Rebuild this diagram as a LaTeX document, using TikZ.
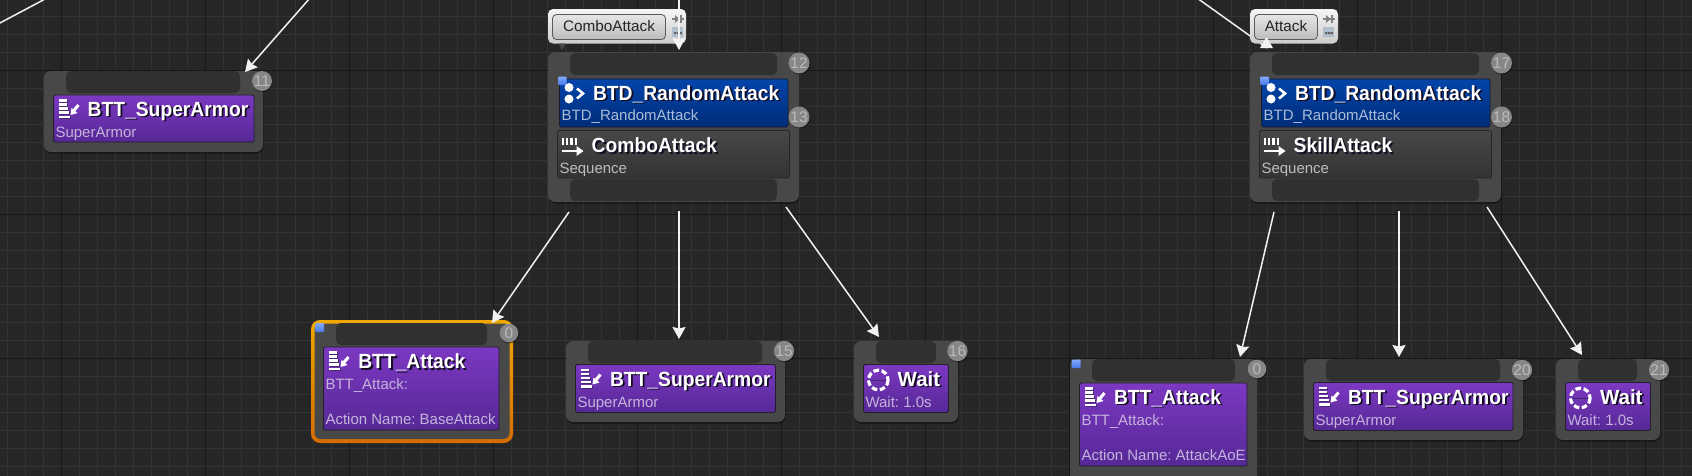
\documentclass[tikz,border=0pt]{standalone}
\usepackage{fontspec}
\setmainfont{Liberation Sans}
\newfontfamily\tfont[FakeStretch=0.94,UprightFont=* Bold]{Liberation Sans}
\newfontfamily\wfont[UprightFont=* Bold]{Liberation Sans}
\usetikzlibrary{arrows.meta,shadows}
\definecolor{bgc}{HTML}{262626}
\definecolor{gmin}{HTML}{333333}
\definecolor{gmaj}{HTML}{171717}
\definecolor{outerc}{HTML}{484848}
\definecolor{barc}{HTML}{303030}
\definecolor{subc}{HTML}{C4B4DC}
\definecolor{subg}{HTML}{BDBDBD}
\definecolor{subb}{HTML}{A9BCD8}
\definecolor{ptop}{RGB}{124,56,194}
\definecolor{pbot}{RGB}{86,40,150}
\definecolor{pedge}{RGB}{34,30,44}
\definecolor{btop}{RGB}{3,68,170}
\definecolor{bbot}{RGB}{0,44,120}
\definecolor{bedge}{RGB}{22,28,44}
\definecolor{otop}{RGB}{240,168,0}
\definecolor{obot}{RGB}{214,108,0}
\definecolor{mtop}{RGB}{130,170,255}
\definecolor{mbot}{RGB}{70,120,230}
\definecolor{shc}{RGB}{20,12,34}
\definecolor{picon}{RGB}{70,40,110}
\definecolor{tagtint}{RGB}{176,190,205}
\tikzset{
  x=1pt,y=-1pt,
  every node/.style={inner sep=0pt,outer sep=0pt},
  flatbox/.style={fill=outerc,rounded corners=7pt},
  outerbox/.style={flatbox,drop shadow={shadow xshift=0.5pt,shadow yshift=-1.5pt,opacity=.45,fill=black}},
  selbox/.style={top color=otop,bottom color=obot,rounded corners=9pt},
  selin/.style={fill=outerc,rounded corners=6pt},
  barbox/.style={fill=barc,rounded corners=5pt},
  purplebox/.style={top color=ptop,bottom color=pbot,draw=pedge,line width=0.8pt,rounded corners=1.5pt},
  bluebox/.style={top color=btop,bottom color=bbot,draw=bedge,line width=0.8pt,rounded corners=1.5pt},
  greybox/.style={top color=black!72,bottom color=black!80,draw=black!85,line width=0.8pt,rounded corners=1.5pt},
  tagbox/.style={top color=black!4,bottom color=black!20,rounded corners=5pt},
  tagbtn/.style={top color=black!10,bottom color=black!26,draw=black!65,line width=0.8pt,rounded corners=4pt},
  badge/.style={circle,fill=black!47,text=black!27,font=\fontsize{15.5}{17}\selectfont,drop shadow={shadow xshift=0.5pt,shadow yshift=-1pt,opacity=.5,fill=black}},
  ttl/.style={anchor=base west,text=white,font=\fontsize{20.5}{24}\tfont},
  ttlw/.style={anchor=base west,text=white,font=\fontsize{20.5}{24}\wfont},
  subt/.style={anchor=base west,font=\fontsize{15}{17}\selectfont\frenchspacing},
  tagtext/.style={text=black!85,font=\fontsize{15.3}{17}\selectfont},
  marker/.style={top color=mtop,bottom color=mbot,rounded corners=0.8pt},
  wire/.style={draw=black!5,line width=1.5pt,-{Stealth[length=12pt,width=13pt,inset=1.5pt]}},
  plainwire/.style={draw=black!5,line width=1.5pt},
  pics/taskicon/.style={code={
    \foreach \yy/\ww in {0/8,4/8.5,8/9,12/10,16.5/11}{
      \draw[picon,line width=2.3pt] (1,\yy+1) -- ++(\ww,0);
      \draw[white,line width=2.3pt] (0,\yy) -- ++(\ww,0);
    }
    \draw[white,line width=3pt] (20,4.5) -- (14.5,11);
    \fill[white] (12,14.5) -- (13,7.5) -- (19,12.5) -- cycle;
  }},
  pics/seqicon/.style={code={
    \foreach \xx in {1.5,5.7,10,14.2}{\draw[white,line width=2.4pt] (\xx,0) -- (\xx,7);}
    \draw[white,line width=2.6pt] (0,13.5) -- (17,13.5);
    \fill[white] (22,13.5) -- (15,8.5) -- (15,18.5) -- cycle;
  }},
  pics/randicon/.style={code={
    \fill[white] (0,0) circle (4.5) (0,11.5) circle (4.5);
    \draw[white,line width=2.6pt] (8,1) -- (14,6) -- (8,11);
  }},
  pics/waiticon/.style={code={
    \draw[white,line width=3.2pt,dash pattern=on 5.6pt off 2.6pt] (0,0) circle (9.8);
    \draw[picon,line width=0.8pt] (-8,0) -- (8,0);
  }},
  pics/tagicons/.style={code={
    \fill[black!50] (-6,-0.8) rectangle (5.5,0.8);
    \fill[black!50] (-3,-4) -- (-3,4) -- (1.5,0) -- cycle;
    \fill[black!50] (2,-4) rectangle (3.5,4);
    \fill[tagtint] (-6,8) rectangle (5,18);
    \fill[black!62] (-4,13) rectangle (-1.8,15) (-1.2,13) rectangle (1,15) (1.6,13) rectangle (3.8,15);
  }},
}
\newcommand\BX[6]{\node[#6,anchor=north west,minimum width={(#4-#2)*1pt},minimum height={(#5-#3)*1pt}] (#1) at (#2,#3) {};}
\newcommand\Sh[1]{\makebox[0pt][l]{\raisebox{-1.8pt}{\hspace{1.8pt}\textcolor{shc}{#1}}}#1}
\newcommand\Ttl[4]{\node[ttl] (#1) at (#2,#3) {\Sh{#4}};}
\newcommand\TtlW[4]{\node[ttlw] (#1) at (#2,#3) {\Sh{#4}};}
\newcommand\Sub[5]{\node[subt,text=#5] (#1) at (#2,#3) {#4};}
\newcommand\Bdg[5]{\node[badge,minimum size={#4*2pt}] (#1) at (#2,#3) {#5};}
\begin{document}
\begin{tikzpicture}
\useasboundingbox (0,0) rectangle (1692,475);
\clip (-2,-2) rectangle (1694,477);
\fill[bgc] (-2,-2) rectangle (1694,477);
% grid
\foreach \i in {0,...,93}{\draw[gmin,line width=1pt] ({7.7+18*\i},-2) -- ({7.7+18*\i},477);}
\foreach \i in {0,...,26}{\draw[gmin,line width=1pt] (-2,{16+18*\i}) -- (1694,{16+18*\i});}
\foreach \i in {0,...,11}{\draw[gmaj,line width=0.8pt] ({61.7+144*\i},-2) -- ({61.7+144*\i},477);}
\foreach \i in {0,...,2}{\draw[gmaj,line width=0.8pt] (-2,{70+144*\i}) -- (1694,{70+144*\i});}
% free wire ends
\coordinate (tl1) at (-2,24);
\coordinate (tl2) at (47,-2);
\coordinate (tl3) at (310,-2);
\coordinate (tl4) at (679,-2);
\coordinate (tl5) at (1197,-2);
% SuperArmor 11
\BX{sa}{44}{71}{263}{152}{outerbox}
\BX{sabar}{66}{71}{240}{93}{barbox}
\BX{sain}{53.5}{95}{254}{142}{purplebox}
\Ttl{satitle}{87.7}{116}{BTT\_SuperArmor}
\Sub{sasub}{55.5}{137}{SuperArmor}{subc}
\pic at (58.5,100.5) {taskicon};
\Bdg{bb}{262}{81}{10}{11}
% Combo composite
\BX{combo}{548}{52}{799}{202}{outerbox}
\BX{cotop}{570}{53}{777}{75}{barbox}
\BX{cobot}{570}{179}{777}{201}{barbox}
\BX{coblue}{559.5}{79}{788}{127}{bluebox}
\BX{coseq}{557.5}{130.5}{789.5}{178}{greybox}
\BX{comark}{558}{76.5}{566.5}{85}{marker}
\pic at (569,87.5) {randicon};
\Ttl{cot}{593}{100}{BTD\_RandomAttack}
\Sub{cos}{561.7}{120.7}{BTD\_RandomAttack}{subb}
\pic at (561.5,137.5) {seqicon};
\Ttl{cot2}{591.7}{152.3}{ComboAttack}
\Sub{cos2}{559.5}{173}{Sequence}{subg}
\Bdg{b12}{799}{63}{10.5}{12}
\Bdg{b13}{799}{117}{10.5}{13}
% Skill composite
\BX{skill}{1250}{52}{1501}{202}{outerbox}
\BX{sktop}{1272}{53}{1479}{75}{barbox}
\BX{skbot}{1272}{179}{1479}{201}{barbox}
\BX{skblue}{1261.5}{79}{1490}{127}{bluebox}
\BX{skseq}{1259.5}{130.5}{1491.5}{178}{greybox}
\BX{skmark}{1260.5}{76.5}{1269}{85}{marker}
\pic at (1271,87.5) {randicon};
\Ttl{skt}{1295}{100}{BTD\_RandomAttack}
\Sub{sks}{1263.7}{120.7}{BTD\_RandomAttack}{subb}
\pic at (1263.5,137.5) {seqicon};
\Ttl{skt2}{1293.7}{152.3}{SkillAttack}
\Sub{sks2}{1261.5}{173}{Sequence}{subg}
\Bdg{b17}{1501.5}{63}{10.5}{17}
\Bdg{b18}{1501.5}{117}{10.5}{18}
% Selected attack
\BX{att}{311}{320}{513}{443}{selbox}
\BX{attin}{314.5}{323.5}{509.5}{439}{selin}
\BX{attbar}{336}{323}{487}{345}{barbox}
\BX{attin2}{323.5}{347}{499}{430}{purplebox}
\BX{attmark}{315.5}{323}{324}{332}{marker}
\pic at (328.5,352.5) {taskicon};
\Ttl{attt}{358.3}{368.3}{BTT\_Attack}
\Sub{atts}{325.5}{389}{BTT\_Attack:}{subc}
\Sub{atts2}{325.5}{424.7}{Action Name: BaseAttack}{subc}
\Bdg{b0a}{509}{333}{9.3}{0}
% SuperArmor 15
\BX{sb}{566}{341}{785}{422}{outerbox}
\BX{sbbar}{588}{341}{762}{363}{barbox}
\BX{sbin}{575.5}{364.5}{775.5}{412.5}{purplebox}
\pic at (580.5,370) {taskicon};
\Ttl{sbt}{610}{386}{BTT\_SuperArmor}
\Sub{sbs}{577.5}{407}{SuperArmor}{subc}
\Bdg{b15}{784}{351}{10}{15}
% Wait 16
\BX{wa}{854}{341}{958}{422}{outerbox}
\BX{wabar}{876}{341}{936}{363}{barbox}
\BX{wain}{863.5}{364.5}{948.5}{412.5}{purplebox}
\pic at (878.3,380) {waiticon};
\TtlW{wat}{897.7}{386}{Wait}
\Sub{was}{865.5}{407}{Wait: 1.0s}{subc}
\Bdg{b16}{957.5}{351}{10}{16}
% Right attack
\BX{atr}{1070}{359}{1257}{490}{flatbox}
\BX{atrbar}{1092}{359}{1235}{381}{barbox}
\BX{atrin}{1079.5}{383}{1247}{466}{purplebox}
\BX{atrmark}{1071.5}{359.5}{1080.5}{368}{marker}
\pic at (1084.5,388.5) {taskicon};
\Ttl{atrt}{1114}{404}{BTT\_Attack}
\Sub{atrs}{1081.5}{425}{BTT\_Attack:}{subc}
\Sub{atrs2}{1081.5}{460.7}{Action Name: AttackAoE}{subc}
\Bdg{b0b}{1257}{369}{9.3}{0}
% SuperArmor 20
\BX{sc}{1304}{359}{1523}{440}{outerbox}
\BX{scbar}{1326}{359}{1500}{381}{barbox}
\BX{scin}{1313.5}{382.5}{1513}{430.5}{purplebox}
\pic at (1318.5,388) {taskicon};
\Ttl{sct}{1348}{404}{BTT\_SuperArmor}
\Sub{scs}{1315.5}{425}{SuperArmor}{subc}
\Bdg{b20}{1522}{370}{10}{20}
% Wait 21
\BX{wb}{1556}{359}{1660}{440}{outerbox}
\BX{wbbar}{1578}{359}{1637}{381}{barbox}
\BX{wbin}{1565.5}{382.5}{1650.5}{430.5}{purplebox}
\pic at (1580.3,398) {waiticon};
\TtlW{wbt}{1600}{404}{Wait}
\Sub{wbs}{1567.5}{425}{Wait: 1.0s}{subc}
\Bdg{b21}{1659}{370}{10}{21}
% wires that pass under the comment tags
\draw[plainwire] (tl5) -- ([shift={(17,-4)}]skill.north west);
% comment tags
\BX{tagA}{548}{9}{686}{43.5}{tagbox}
\BX{tagAb}{552.5}{14.5}{665.5}{39.5}{tagbtn}
\node[tagtext] (tagAt) at (609,26) {ComboAttack};
\pic at (678,19) {tagicons};
\fill[black!72] (558.5,43.5) -- (565.5,43.5) -- (562,50) -- cycle;
\BX{tagB}{1250}{9}{1338}{43.5}{tagbox}
\BX{tagBb}{1254.5}{14.5}{1317.5}{39.5}{tagbtn}
\node[tagtext] (tagBt) at (1286,26) {Attack};
\pic at (1329,19) {tagicons};
% connectors
\draw[plainwire] (tl1) -- (tl2);
\draw[wire] (tl3) -- ([shift={(-18,1)}]sa.north east);
\draw[wire] (tl4) -- ([shift={(5.5,-2)}]combo.north);
\fill[black!5] ([shift={(16.5,-15)}]skill.north west) -- ([shift={(10,-4)}]skill.north west) -- ([shift={(23,-4)}]skill.north west) -- cycle;
\draw[wire] ([shift={(21,10)}]combo.south west) -- ([shift={(-21,3)}]att.north east);
\draw[wire] ([shift={(5.5,9)}]combo.south) -- ([shift={(3.5,-2)}]sb.north);
\draw[wire] ([shift={(-13,5)}]combo.south east) -- ([shift={(-27,-4)}]wa.north);
\draw[wire] ([shift={(24,10)}]skill.south west) -- ([shift={(-17,-2)}]atr.north east);
\draw[wire] ([shift={(23.5,9)}]skill.south) -- ([shift={(-14.5,-2)}]sc.north);
\draw[wire] ([shift={(-14,5)}]skill.south east) -- ([shift={(-26,-4)}]wb.north);
\end{tikzpicture}
\end{document}
